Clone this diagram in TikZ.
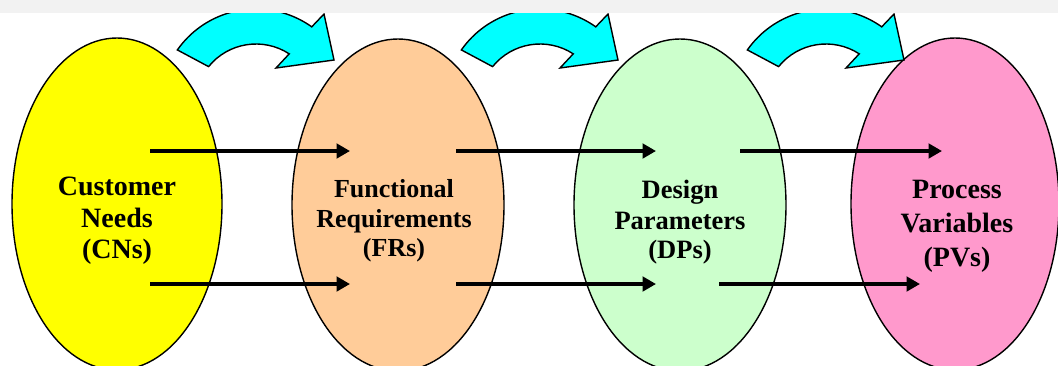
\documentclass[tikz,border=0pt]{standalone}
\usepackage{fontspec}
\setmainfont{Liberation Serif}
\usetikzlibrary{arrows.meta}
\definecolor{cnfill}{HTML}{FFFF00}
\definecolor{frfill}{HTML}{FFCC99}
\definecolor{dpfill}{HTML}{CCFFCC}
\definecolor{pvfill}{HTML}{FF99CC}
\definecolor{bendfill}{HTML}{00FFFF}
\definecolor{bandgray}{HTML}{F2F2F2}
\tikzset{
  domainring/.style={draw=black, line width=1.4pt},
  flowarrow/.style={line width=4pt, -{Triangle[length=13.5pt,width=14.5pt]}},
  bendarrow/.style={draw=black, line width=1.4pt, fill=bendfill, line join=miter},
  lbl/.style={anchor=base, inner sep=0pt},
}
\begin{document}
\begin{tikzpicture}[x=1pt,y=1pt]
\useasboundingbox (0,0) rectangle (1058,-365);
\fill[white] (0,0) rectangle (1058,-365);

% domains
\draw[domainring, fill=cnfill] (117,-204) ellipse [x radius=105pt, y radius=166pt];
\draw[domainring, fill=frfill] (398,-205) ellipse [x radius=106pt, y radius=166pt];
\draw[domainring, fill=dpfill] (680,-205) ellipse [x radius=106pt, y radius=166pt];
\draw[domainring, fill=pvfill] (955,-204) ellipse [x radius=104pt, y radius=166pt];

% curved mapping arrows
\foreach \dx in {0,284,570}{
  \draw[bendarrow, shift={(256+\dx,-105)}]
    (145:96pt) arc[start angle=145, end angle=54.5, radius=96pt]
    -- (68pt,91pt) -- (78pt,45pt) -- (20pt,37pt)
    -- (57:61pt) arc[start angle=57, end angle=141, radius=61pt] -- cycle;
}

% labels
\node[lbl, font=\bfseries\fontsize{28}{32}\selectfont] (cn1) at (117,-195) {Customer};
\node[lbl, font=\bfseries\fontsize{28}{32}\selectfont] (cn2) at (117,-227) {Needs};
\node[lbl, font=\bfseries\fontsize{28}{32}\selectfont] (cn3) at (117,-258) {(CNs)};

\node[lbl, font=\bfseries\fontsize{26}{30}\selectfont] (fr1) at (394,-197) {Functional};
\node[lbl, font=\bfseries\fontsize{26}{30}\selectfont] (fr2) at (394,-227) {Requirements};
\node[lbl, font=\bfseries\fontsize{26}{30}\selectfont] (fr3) at (394,-256) {(FRs)};

\node[lbl, font=\bfseries\fontsize{26.5}{30}\selectfont] (dp1) at (680,-198) {Design};
\node[lbl, font=\bfseries\fontsize{26.5}{30}\selectfont] (dp2) at (680,-229) {Parameters};
\node[lbl, font=\bfseries\fontsize{26.5}{30}\selectfont] (dp3) at (680,-258) {(DPs)};

\node[lbl, font=\bfseries\fontsize{28}{34}\selectfont] (pv1) at (957,-198) {Process};
\node[lbl, font=\bfseries\fontsize{28}{34}\selectfont] (pv2) at (957,-232) {Variables};
\node[lbl, font=\bfseries\fontsize{28}{34}\selectfont] (pv3) at (957,-266) {(PVs)};

% straight arrows
\coordinate (a1s) at (150,-151); \coordinate (a1e) at (350,-151);
\coordinate (b1s) at (150,-284); \coordinate (b1e) at (350,-284);
\coordinate (a2s) at (456,-151); \coordinate (a2e) at (656,-151);
\coordinate (b2s) at (456,-284); \coordinate (b2e) at (656,-284);
\coordinate (a3s) at (740,-151); \coordinate (a3e) at (942,-151);
\coordinate (b3s) at (719,-284); \coordinate (b3e) at (920,-284);
\draw[flowarrow] (a1s) -- (a1e);
\draw[flowarrow] (b1s) -- (b1e);
\draw[flowarrow] (a2s) -- (a2e);
\draw[flowarrow] (b2s) -- (b2e);
\draw[flowarrow] (a3s) -- (a3e);
\draw[flowarrow] (b3s) -- (b3e);

% top band of the screenshot
\fill[bandgray] (0,0) rectangle (1058,-13);
\end{tikzpicture}
\end{document}
